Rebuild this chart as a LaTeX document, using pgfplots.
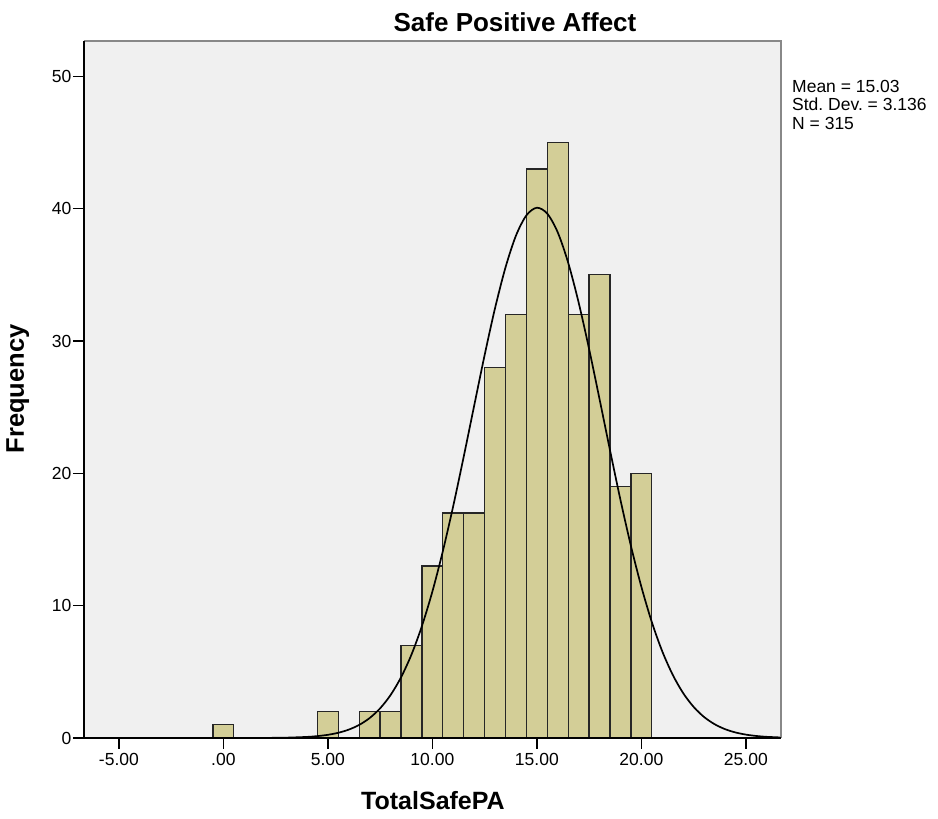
\documentclass[border=0pt]{standalone}
\usepackage{pgfplots}
\pgfplotsset{compat=1.18}
\usepackage{fontspec}
\setmainfont{Liberation Sans}
\frenchspacing
\definecolor{bgGray}{HTML}{F0F0F0}
\definecolor{barTan}{HTML}{D3CE97}
\definecolor{frameGray}{HTML}{888888}
\begin{document}
\begin{tikzpicture}
\useasboundingbox (-84pt,-81pt) rectangle (854pt,738pt);
\begin{axis}[
  scale only axis,
  width=697pt, height=697pt,
  xmin=-6.67, xmax=26.68,
  ymin=0, ymax=52.67,
  axis background/.style={fill=bgGray},
  axis line style={draw=none},
  xtick={-5,0,5,10,15,20,25},
  xticklabels={-5.00,.00,5.00,10.00,15.00,20.00,25.00},
  ytick={0,10,20,30,40,50},
  xtick pos=bottom, ytick pos=left,
  tick align=outside,
  major tick length=11pt,
  tick style={black, line width=1.3pt},
  ticklabel style={font=\fontsize{17.5}{20}\selectfont},
  /pgf/number format/assume math mode=true,
  xticklabel style={yshift=-1pt},
  yticklabel style={xshift=2pt},
  title={Safe Positive Affect},
  title style={at={(axis description cs:0.6184,1.0043)}, anchor=base, font=\bfseries\fontsize{26}{30}\selectfont},
  xlabel={TotalSafePA},
  xlabel style={at={(axis description cs:0.5007,-0.1019)}, anchor=base, font=\bfseries\fontsize{25}{30}\selectfont},
  ylabel={Frequency},
  ylabel style={at={(axis description cs:-0.0861,0.5007)}, rotate=0, anchor=base, font=\bfseries\fontsize{25.5}{30}\selectfont},
  clip mode=individual,
]
\addplot[ybar, bar width=20.9pt, fill=barTan, draw=black!85, line width=1.3pt] coordinates {
  (0,1) (5,2) (7,2) (8,2) (9,7) (10,13) (11,17) (12,17) (13,28) (14,32)
  (15,43) (16,45) (17,32) (18,35) (19,19) (20,20)
};
\addplot[smooth, black, line width=1.7pt] coordinates {
  (-6.67,0) (-2,0) (0,0.0004) (1,0.0018) (2,0.0071) (3,0.0255) (4,0.0825)
  (4.5,0.143) (5,0.241) (5.5,0.396) (6,0.634) (6.5,0.991) (7,1.510)
  (7.5,2.243) (8,3.248) (8.5,4.585) (9,6.307) (9.5,8.463) (10,11.07)
  (10.5,14.12) (11,17.55) (11.5,21.27) (12,25.12) (12.5,28.94) (13,32.50)
  (13.5,35.57) (14,37.97) (14.5,39.50) (15,40.07) (15.5,39.62) (16,38.20)
  (16.5,35.90) (17,32.89) (17.5,29.38) (18,25.59) (18.5,21.73) (19,17.98)
  (19.5,14.51) (20,11.42) (20.5,8.752) (21,6.543) (21.5,4.772) (22,3.389)
  (22.5,2.349) (23,1.586) (23.5,1.045) (24,0.670) (24.5,0.420) (25,0.256)
  (25.5,0.152) (26,0.088) (26.68,0.040)
};
\draw[frameGray, line width=2.2pt] (rel axis cs:0,1) -- (rel axis cs:1,1) -- (rel axis cs:1,0);
\draw[black, line width=1.6pt] (rel axis cs:0,1) -- (rel axis cs:0,0) -- (rel axis cs:1,0);
\node[anchor=base west, font=\fontsize{17.5}{20}\selectfont, inner sep=0pt] at (axis description cs:1.0158,0.9261) {Mean = 15.03};
\node[anchor=base west, font=\fontsize{17.5}{20}\selectfont, inner sep=0pt] at (axis description cs:1.0158,0.8996) {Std. Dev. = 3.136};
\node[anchor=base west, font=\fontsize{17.5}{20}\selectfont, inner sep=0pt] at (axis description cs:1.0158,0.8733) {N = 315};
\end{axis}
\end{tikzpicture}
\end{document}
